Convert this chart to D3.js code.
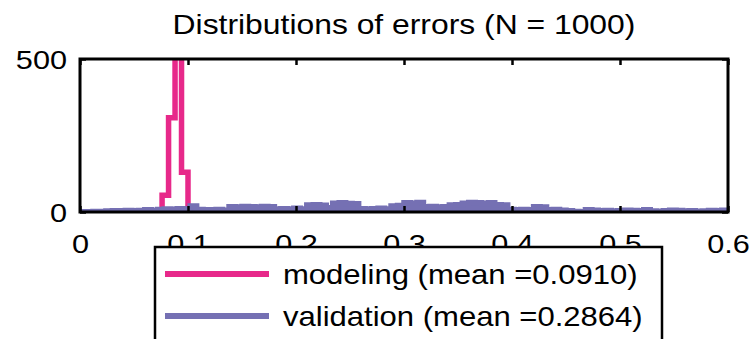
<!DOCTYPE html>
<html>
<head>
<meta charset="utf-8">
<script src="https://cdn.jsdelivr.net/npm/d3@7"></script>
<style>
  html, body { margin: 0; padding: 0; background: #fff; }
  svg text { font-family: "Liberation Sans", Arial, sans-serif; fill: #000; }
</style>
</head>
<body>
<svg id="chart" width="756" height="339"></svg>
<script>
// Histogram counts per bin (bin width 0.006)
const binWidth = 0.006;

// modeling errors: bins starting at 0.070
const modelingStart = 0.070;
const modelingCounts = [0, 55, 308, 505, 130, 0, 0, 0, 0, 0, 0, 0, 0, 0, 0, 0, 0, 0, 0, 0,
  0, 0, 0, 0, 0, 0, 0, 0, 0, 0, 0, 0, 0, 0, 1, 0, 0, 0, 0, 0, 0, 0, 0, 0, 0, 0, 0, 0, 0, 0,
  0, 0, 0, 1, 0, 0, 0];

// validation errors: bins starting at 0
const validationStart = 0.0;
const validationCounts = [
  1, 1, 2, 2, 3, 4, 4, 5, 4, 5,
  7, 6, 8, 10, 9, 11, 10, 20, 8, 7,
  7, 8, 6, 17, 16, 18, 17, 16, 18, 17,
  10, 11, 10, 12, 10, 23, 24, 22, 14, 29,
  30, 28, 27, 11, 10, 11, 12, 10, 20, 21,
  30, 29, 31, 17, 18, 16, 17, 23, 24, 29,
  31, 30, 28, 30, 24, 23, 8, 7, 8, 7,
  17, 16, 7, 8, 6, 4, 2, 1, 7, 6,
  4, 5, 3, 4, 6, 5, 4, 7, 3, 2,
  4, 6, 5, 3, 4, 2, 3, 5, 4, 6];

const xTicks = [0, 0.1, 0.2, 0.3, 0.4, 0.5, 0.6];
const yTicks = [0, 500];
const titleText = "Distributions of errors (N = 1000)";
const legendLabels = ["modeling (mean =0.0910)", "validation (mean =0.2864)"];
const seriesColors = ["#e7298a", "#7570b3"];

const svg = d3.select("#chart");
const plotLeft = 80, plotRight = 728, plotTop = 59, plotBottom = 212;
const stretch = 1.18;   // text is drawn slightly widened

const x = d3.scaleLinear().domain([0, 0.6]).range([plotLeft, plotRight]);
const y = d3.scaleLinear().domain([0, 500]).range([plotBottom, plotTop]);

svg.append("rect").attr("width", 756).attr("height", 339).attr("fill", "#fff");

// title
svg.append("text")
  .attr("transform", `translate(${(plotLeft + plotRight) / 2},34) scale(${stretch},1)`)
  .attr("text-anchor", "middle")
  .attr("font-size", 27)
  .text(titleText);

svg.append("defs").append("clipPath").attr("id", "plotclip")
  .append("rect").attr("x", plotLeft).attr("y", plotTop)
  .attr("width", plotRight - plotLeft).attr("height", plotBottom - plotTop);

// stair-step points for a histogram: one point at each bin's left edge plus the closing edge
function stairs(start, counts) {
  const pts = counts.map((c, i) => [start + i * binWidth, c]);
  pts.push([start + counts.length * binWidth, counts[counts.length - 1]]);
  return pts;
}

const plot = svg.append("g").attr("clip-path", "url(#plotclip)");

const line = d3.line().x(d => x(d[0])).y(d => y(d[1])).curve(d3.curveStepAfter);
const area = d3.area().x(d => x(d[0])).y0(y(0)).y1(d => y(d[1])).curve(d3.curveStepAfter);

// modeling
plot.append("path")
  .datum(stairs(modelingStart, modelingCounts))
  .attr("d", line)
  .attr("fill", "none")
  .attr("stroke", seriesColors[0])
  .attr("stroke-width", 5.5)
  .attr("stroke-linejoin", "miter");

// validation
const valPts = stairs(validationStart, validationCounts);
plot.append("path")
  .datum(valPts)
  .attr("d", area)
  .attr("fill", seriesColors[1]);
plot.append("path")
  .datum(valPts)
  .attr("d", line)
  .attr("fill", "none")
  .attr("stroke", seriesColors[1])
  .attr("stroke-width", 5.5);

// axes (ticks point inward on all four sides)
const tickLen = 6;
const gx = svg.append("g").attr("transform", `translate(0,${plotBottom})`)
  .call(d3.axisBottom(x).tickValues(xTicks).tickFormat(d => d === 0 ? "0" : d3.format(".1f")(d))
    .tickSizeInner(-tickLen).tickSizeOuter(0));
const gxTop = svg.append("g").attr("transform", `translate(0,${plotTop})`)
  .call(d3.axisTop(x).tickValues(xTicks).tickFormat("").tickSizeInner(-tickLen).tickSizeOuter(0));
const gy = svg.append("g").attr("transform", `translate(${plotLeft},0)`)
  .call(d3.axisLeft(y).tickValues(yTicks).tickSizeInner(-tickLen).tickSizeOuter(0));
const gyR = svg.append("g").attr("transform", `translate(${plotRight},0)`)
  .call(d3.axisRight(y).tickValues(yTicks).tickFormat("").tickSizeInner(-tickLen).tickSizeOuter(0));

[gx, gxTop, gy, gyR].forEach(g => {
  g.select(".domain").remove();
  g.selectAll(".tick line").attr("stroke", "#000").attr("stroke-width", 2.5);
  g.selectAll(".tick text").attr("font-size", 26).attr("font-family", "Liberation Sans, Arial, sans-serif").attr("fill", "#000");
});
gx.selectAll(".tick text")
  .attr("x", null).attr("y", null).attr("dy", null)
  .attr("transform", `translate(0,${253 - plotBottom}) scale(${stretch},1)`);
gy.selectAll(".tick text")
  .attr("x", null).attr("y", null).attr("dy", "0.35em")
  .attr("transform", `translate(-13,0) scale(${stretch},1)`);

svg.append("rect")
  .attr("x", plotLeft).attr("y", plotTop).attr("width", plotRight - plotLeft).attr("height", plotBottom - plotTop)
  .attr("fill", "none").attr("stroke", "#000").attr("stroke-width", 3);

// legend
const lg = svg.append("g");
lg.append("rect")
  .attr("x", 155).attr("y", 247).attr("width", 507).attr("height", 130)
  .attr("fill", "#fff").attr("stroke", "#000").attr("stroke-width", 2.5);
legendLabels.forEach((lab, i) => {
  const yy = 274 + i * 42;
  lg.append("line").attr("x1", 165).attr("x2", 269).attr("y1", yy).attr("y2", yy)
    .attr("stroke", seriesColors[i]).attr("stroke-width", 6);
  lg.append("text")
    .attr("transform", `translate(283,${yy + 10}) scale(1.15,1)`)
    .attr("font-size", 27).text(lab);
});
</script>
</body>
</html>
